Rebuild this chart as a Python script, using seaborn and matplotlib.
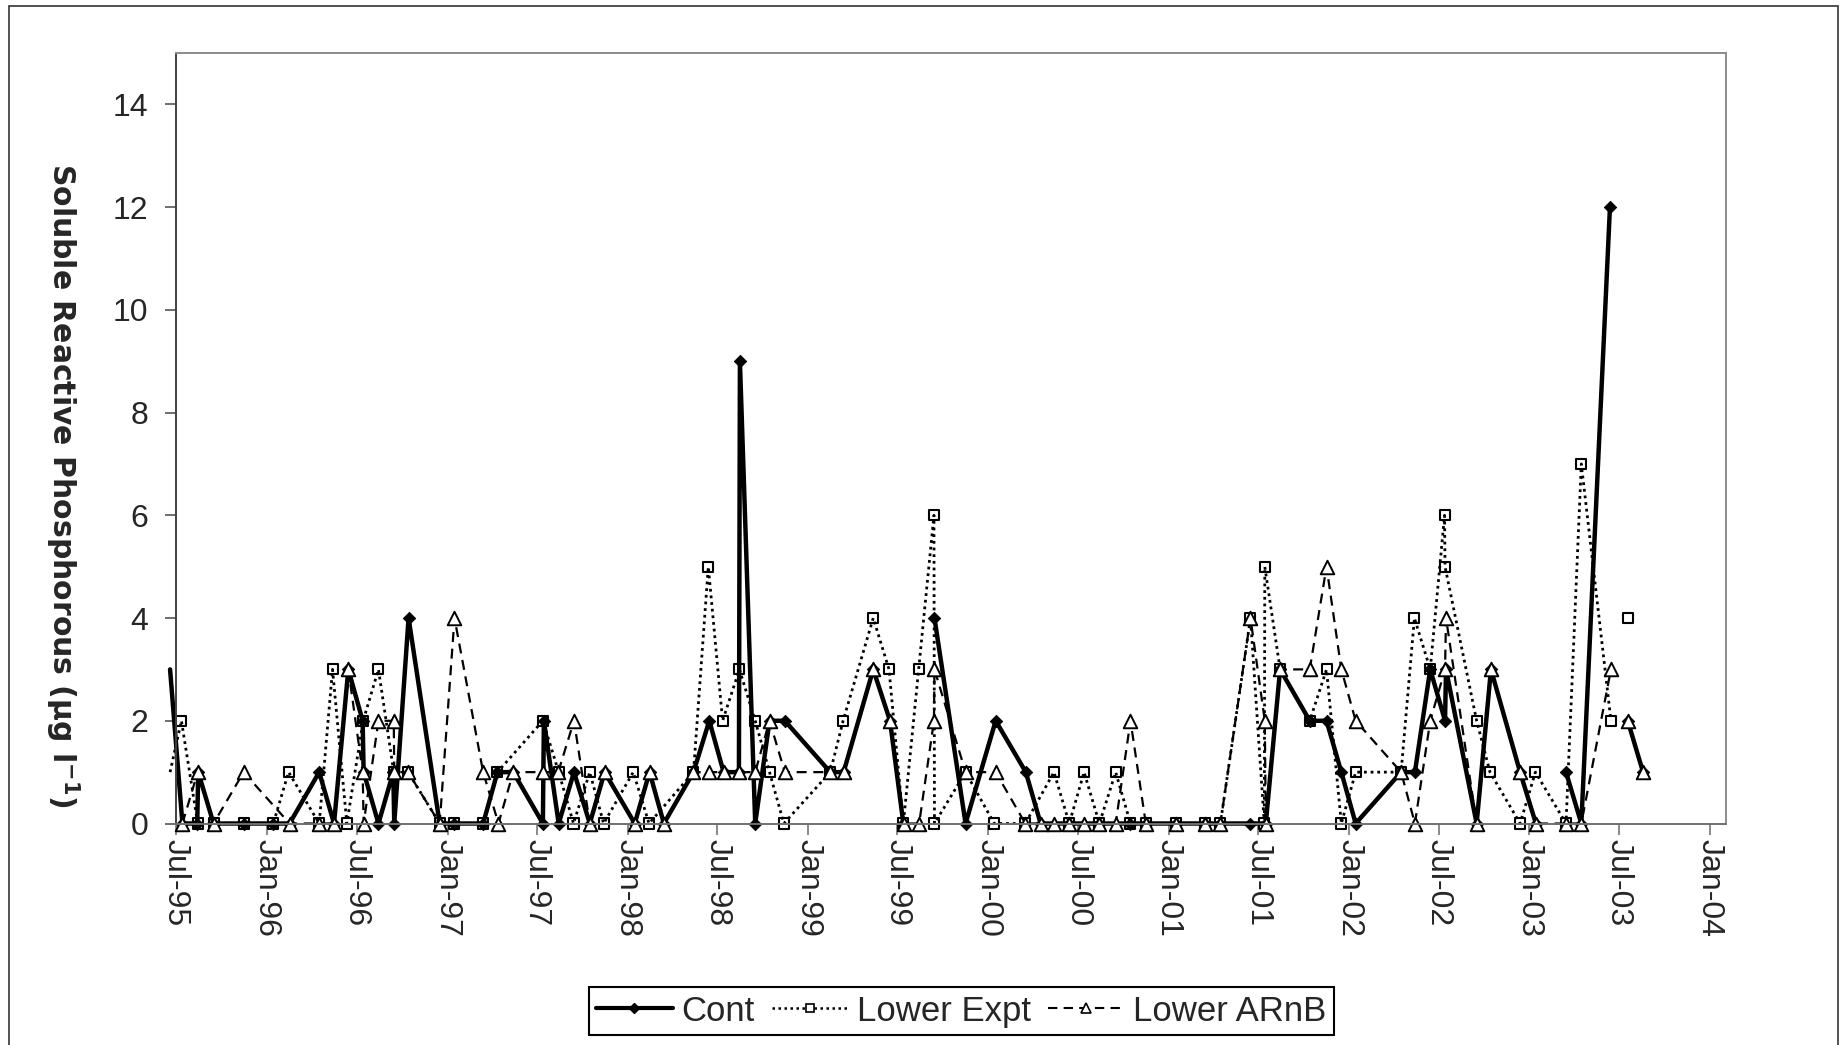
import numpy as np
import pandas as pd
import matplotlib
matplotlib.use("Agg")
import matplotlib.pyplot as plt
import seaborn as sns
from matplotlib.lines import Line2D
from matplotlib.patches import Rectangle

nan = np.nan

# ---------------- data ----------------
series_names = ["Cont", "Lower Expt", "Lower ARnB"]

cont_dates = ["1995-06-19", "1995-07-14", "1995-08-13", "1995-08-15", "1995-09-15", "1995-11-15",
              "1996-01-14", "1996-02-16", "1996-04-16", "1996-05-16", "1996-06-14", "1996-07-13",
              "1996-07-15", "1996-08-14", "1996-09-13", "1996-09-15", "1996-10-14", "1996-12-16",
              "1997-01-14", "1997-03-14", "1997-04-12", "1997-05-14", "1997-07-13", "1997-07-15",
              "1997-08-14", "1997-09-14", "1997-10-16", "1997-11-15", "1998-01-15", "1998-02-14",
              "1998-03-15", "1998-05-14", "1998-06-15", "1998-07-14", "1998-08-14", "1998-08-16",
              "1998-09-16", "1998-10-15", "1998-11-15", "1999-02-15", "1999-03-14", "1999-05-13",
              "1999-06-16", "1999-07-13", "1999-08-14", "1999-09-14", "1999-11-16", "2000-01-16",
              "2000-03-17", "2000-04-16", "2000-06-13", "2000-08-13", "2000-10-15", "2000-11-15",
              "2001-01-15", "2001-03-15", "2001-04-15", "2001-06-15", "2001-07-16", "2001-08-14",
              "2001-10-13", "2001-11-16", "2001-12-16", "2002-01-14", "2002-04-16", "2002-05-14",
              "2002-06-14", "2002-07-14", "2002-07-16", "2002-09-16", "2002-10-15", "2002-12-13",
              "2003-01-14", "2003-02-14", "2003-03-16", "2003-04-16", "2003-06-13", "2003-07-01",
              "2003-07-19", "2003-08-19"]
cont_values = [3, 0, 0, 1, 0, 0,
               0, 0, 1, 0, 3, 2,
               1, 0, 1, 0, 4, 0,
               0, 0, 1, 1, 0, 2,
               0, 1, 0, 1, 0, 1,
               0, 1, 2, 1, 1, 9,
               0, 2, 2, 1, 1, 3,
               2, 0, nan, 4, 0, 2,
               1, 0, 0, 0, 0, 0,
               0, 0, 0, 0, 0, 3,
               2, 2, 1, 0, 1, 1,
               3, 2, 3, 0, 3, 1,
               0, nan, 1, 0, 12, nan,
               2, 1]

expt_dates = ["1995-06-19", "1995-07-12", "1995-08-14", "1995-09-15", "1995-11-15", "1996-01-14",
              "1996-02-14", "1996-04-16", "1996-05-13", "1996-06-11", "1996-07-14", "1996-08-14",
              "1996-09-14", "1996-10-13", "1996-12-16", "1997-01-14", "1997-03-14", "1997-04-12",
              "1997-07-13", "1997-08-14", "1997-09-13", "1997-10-16", "1997-11-13", "1998-01-12",
              "1998-02-13", "1998-05-14", "1998-06-13", "1998-07-12", "1998-08-15", "1998-09-16",
              "1998-10-15", "1998-11-13", "1999-02-15", "1999-03-13", "1999-05-13", "1999-06-14",
              "1999-07-13", "1999-08-13", "1999-09-13", "1999-09-14", "1999-11-16", "2000-01-13",
              "2000-03-16", "2000-05-13", "2000-06-13", "2000-07-13", "2000-08-13", "2000-09-15",
              "2000-10-15", "2000-11-15", "2001-01-15", "2001-03-15", "2001-04-15", "2001-06-15",
              "2001-07-13", "2001-07-14", "2001-08-14", "2001-10-13", "2001-11-16", "2001-12-16",
              "2002-01-14", "2002-04-16", "2002-05-13", "2002-06-14", "2002-07-13", "2002-07-14",
              "2002-09-16", "2002-10-13", "2002-12-13", "2003-01-13", "2003-03-16", "2003-04-16",
              "2003-06-15", "2003-07-01", "2003-07-19"]
expt_values = [1, 2, 0, 0, 0, 0,
               1, 0, 3, 0, 2, 3,
               1, 1, 0, 0, 0, 1,
               2, 1, 0, 1, 0, 1,
               0, 1, 5, 2, 3, 2,
               1, 0, 1, 2, 4, 3,
               0, 3, 6, 0, 1, 0,
               0, 1, 0, 1, 0, 1,
               0, 0, 0, 0, 0, 4,
               0, 5, 3, 2, 3, 0,
               1, 1, 4, 3, 6, 5,
               2, 1, 0, 1, 0, 7,
               2, nan, 4]

arnb_dates = ["1995-07-14", "1995-08-14", "1995-09-15", "1995-11-15", "1996-02-16", "1996-04-16",
              "1996-05-16", "1996-06-14", "1996-07-13", "1996-07-15", "1996-08-14", "1996-09-14",
              "1996-09-15", "1996-10-13", "1996-12-16", "1997-01-15", "1997-03-14", "1997-04-14",
              "1997-05-14", "1997-07-13", "1997-08-13", "1997-09-14", "1997-10-16", "1997-11-15",
              "1998-01-15", "1998-02-14", "1998-03-15", "1998-05-14", "1998-06-15", "1998-07-14",
              "1998-08-15", "1998-09-16", "1998-10-15", "1998-11-15", "1999-02-15", "1999-03-14",
              "1999-05-13", "1999-06-16", "1999-07-14", "1999-08-14", "1999-09-13", "1999-09-14",
              "1999-11-16", "2000-01-16", "2000-03-16", "2000-04-16", "2000-05-13", "2000-06-13",
              "2000-07-13", "2000-08-13", "2000-09-15", "2000-10-15", "2000-11-15", "2001-01-15",
              "2001-03-15", "2001-04-15", "2001-06-15", "2001-07-14", "2001-07-16", "2001-08-14",
              "2001-10-13", "2001-11-16", "2001-12-16", "2002-01-14", "2002-04-16", "2002-05-14",
              "2002-06-14", "2002-07-14", "2002-07-16", "2002-09-16", "2002-10-15", "2002-12-13",
              "2003-01-14", "2003-03-16", "2003-04-16", "2003-06-15", "2003-07-01", "2003-07-19",
              "2003-08-19"]
arnb_values = [0, 1, 0, 1, 0, 0,
               0, 3, 1, 0, 2, 2,
               1, 1, 0, 4, 1, 0,
               1, 1, 1, 2, 0, 1,
               0, 1, 0, 1, 1, 1,
               1, 1, 2, 1, 1, 1,
               3, 2, 0, 0, 2, 3,
               1, 1, 0, 0, 0, 0,
               0, 0, 0, 2, 0, 0,
               0, 0, 4, 2, 0, 3,
               3, 5, 3, 2, 1, 0,
               2, 3, 4, 0, 3, 1,
               0, 0, 0, 3, nan, 2,
               1]

tick_dates = ["1995-07-01", "1996-01-01", "1996-07-01", "1997-01-01", "1997-07-01", "1998-01-01",
              "1998-07-01", "1999-01-01", "1999-07-01", "2000-01-01", "2000-07-01", "2001-01-01",
              "2001-07-01", "2002-01-01", "2002-07-01", "2003-01-01", "2003-07-01", "2004-01-01"]
tick_labels = ["Jul-95", "Jan-96", "Jul-96", "Jan-97", "Jul-97", "Jan-98", "Jul-98", "Jan-99",
               "Jul-99", "Jan-00", "Jul-00", "Jan-01", "Jul-01", "Jan-02", "Jul-02", "Jan-03",
               "Jul-03", "Jan-04"]
y_ticks = [0, 2, 4, 6, 8, 10, 12, 14]

# ---------------- style ----------------
sns.set_theme(style="white")
plt.rcParams['font.family'] = ['Liberation Sans', 'DejaVu Sans']
plt.rcParams['mathtext.fontset'] = 'dejavusans'

W, H = 1847, 1045
fig = plt.figure(figsize=(W / 100, H / 100), dpi=100)
ax = fig.add_axes([176 / W, 1 - 823.5 / H, (1726 - 176) / W, (823.5 - 53) / H])

x_start = pd.Timestamp("1995-07-01")
x_end = pd.Timestamp("2004-02-03")

DOT = (0, (1.0, 1.4))
DASH = (0, (4.5, 3.0))
styles = [
    dict(ls="-", lw=3.2, marker="D", s=40, fc="black", mew=0.6),
    dict(ls=DOT, lw=2.0, marker="s", s=52, fc="none", mew=1.5),
    dict(ls=DASH, lw=1.6, marker="^", s=95, fc="white", mew=1.4),
]
all_dates = [cont_dates, expt_dates, arnb_dates]
all_values = [cont_values, expt_values, arnb_values]


def make_frame(dates, values):
    df = pd.DataFrame({"date": pd.to_datetime(dates), "value": values})
    df["seg"] = df["value"].isna().cumsum()
    return df.dropna(subset=["value"]).reset_index(drop=True)


for i, (dates, values, st) in enumerate(zip(all_dates, all_values, styles)):
    df = make_frame(dates, values)
    sns.lineplot(data=df, x="date", y="value", units="seg", estimator=None, sort=False,
                 color="black", linewidth=st["lw"], linestyle=st["ls"], legend=False,
                 ax=ax, clip_on=False, zorder=2 + i * 0.2)
    vis = df[df["date"] >= x_start]
    sns.scatterplot(data=vis, x="date", y="value", marker=st["marker"], s=st["s"],
                    facecolor=st["fc"], edgecolor="black", linewidth=st["mew"],
                    ax=ax, clip_on=False, zorder=2.1 + i * 0.2, legend=False)

ax.set_xlim(x_start, x_end)
ax.set_ylim(0, 15)
ax.set_yticks(y_ticks)
ax.set_xticks(pd.to_datetime(tick_dates))
ax.set_xticklabels(tick_labels, rotation=270, ha="center", va="top", fontsize=23)
ax.tick_params(axis="y", direction="out", length=8, width=1.2, color="#555555",
               labelsize=23, pad=12, left=True)
ax.tick_params(axis="x", direction="out", length=8, width=1.2, color="#777777",
               pad=3, bottom=True)
ax.grid(False)
ax.set_xlabel("")

for side, col in [("left", "#404040"), ("bottom", "#707070"), ("top", "#8c8c8c"), ("right", "#8c8c8c")]:
    ax.spines[side].set_visible(True)
    ax.spines[side].set_color(col)
    ax.spines[side].set_linewidth(1.4)

ax.set_ylabel(r"Soluble Reactive Phosphorous (µg l$^{\mathbf{-1}}$)", rotation=270,
              fontsize=21.5, fontweight="bold", family=["DejaVu Sans"], va="center", ha="center")
ax.yaxis.set_label_coords((62.5 - 176) / 1550, 1 - (485 - 53) / 770.5)

# legend
handles = [
    Line2D([], [], color="black", lw=3.0, ls="-", marker="D", ms=5.5, mfc="black", mec="black"),
    Line2D([], [], color="black", lw=1.8, ls=DOT, marker="s", ms=5.5, mfc="white",
           mec="black", mew=1.2),
    Line2D([], [], color="black", lw=1.5, ls=DASH, marker="^", ms=7.5, mfc="white",
           mec="black", mew=1.2),
]
leg = fig.legend(handles, series_names, loc="upper center", bbox_to_anchor=(0.5205, 1 - 987 / H),
                 ncol=3, frameon=True, fancybox=False, edgecolor="black", fontsize=25,
                 handlelength=2.2, handletextpad=0.25, columnspacing=0.5, borderpad=0.22,
                 borderaxespad=0)
leg.get_frame().set_linewidth(1.5)
leg.get_frame().set_alpha(1)

# outer chart border
fig.patches.append(Rectangle((9 / W, -0.02), (1838 - 9) / W, 1 - 6 / H + 0.02,
                             transform=fig.transFigure, fill=False, edgecolor="#333333", lw=1.2))

fig.savefig("out.png", dpi=100)
